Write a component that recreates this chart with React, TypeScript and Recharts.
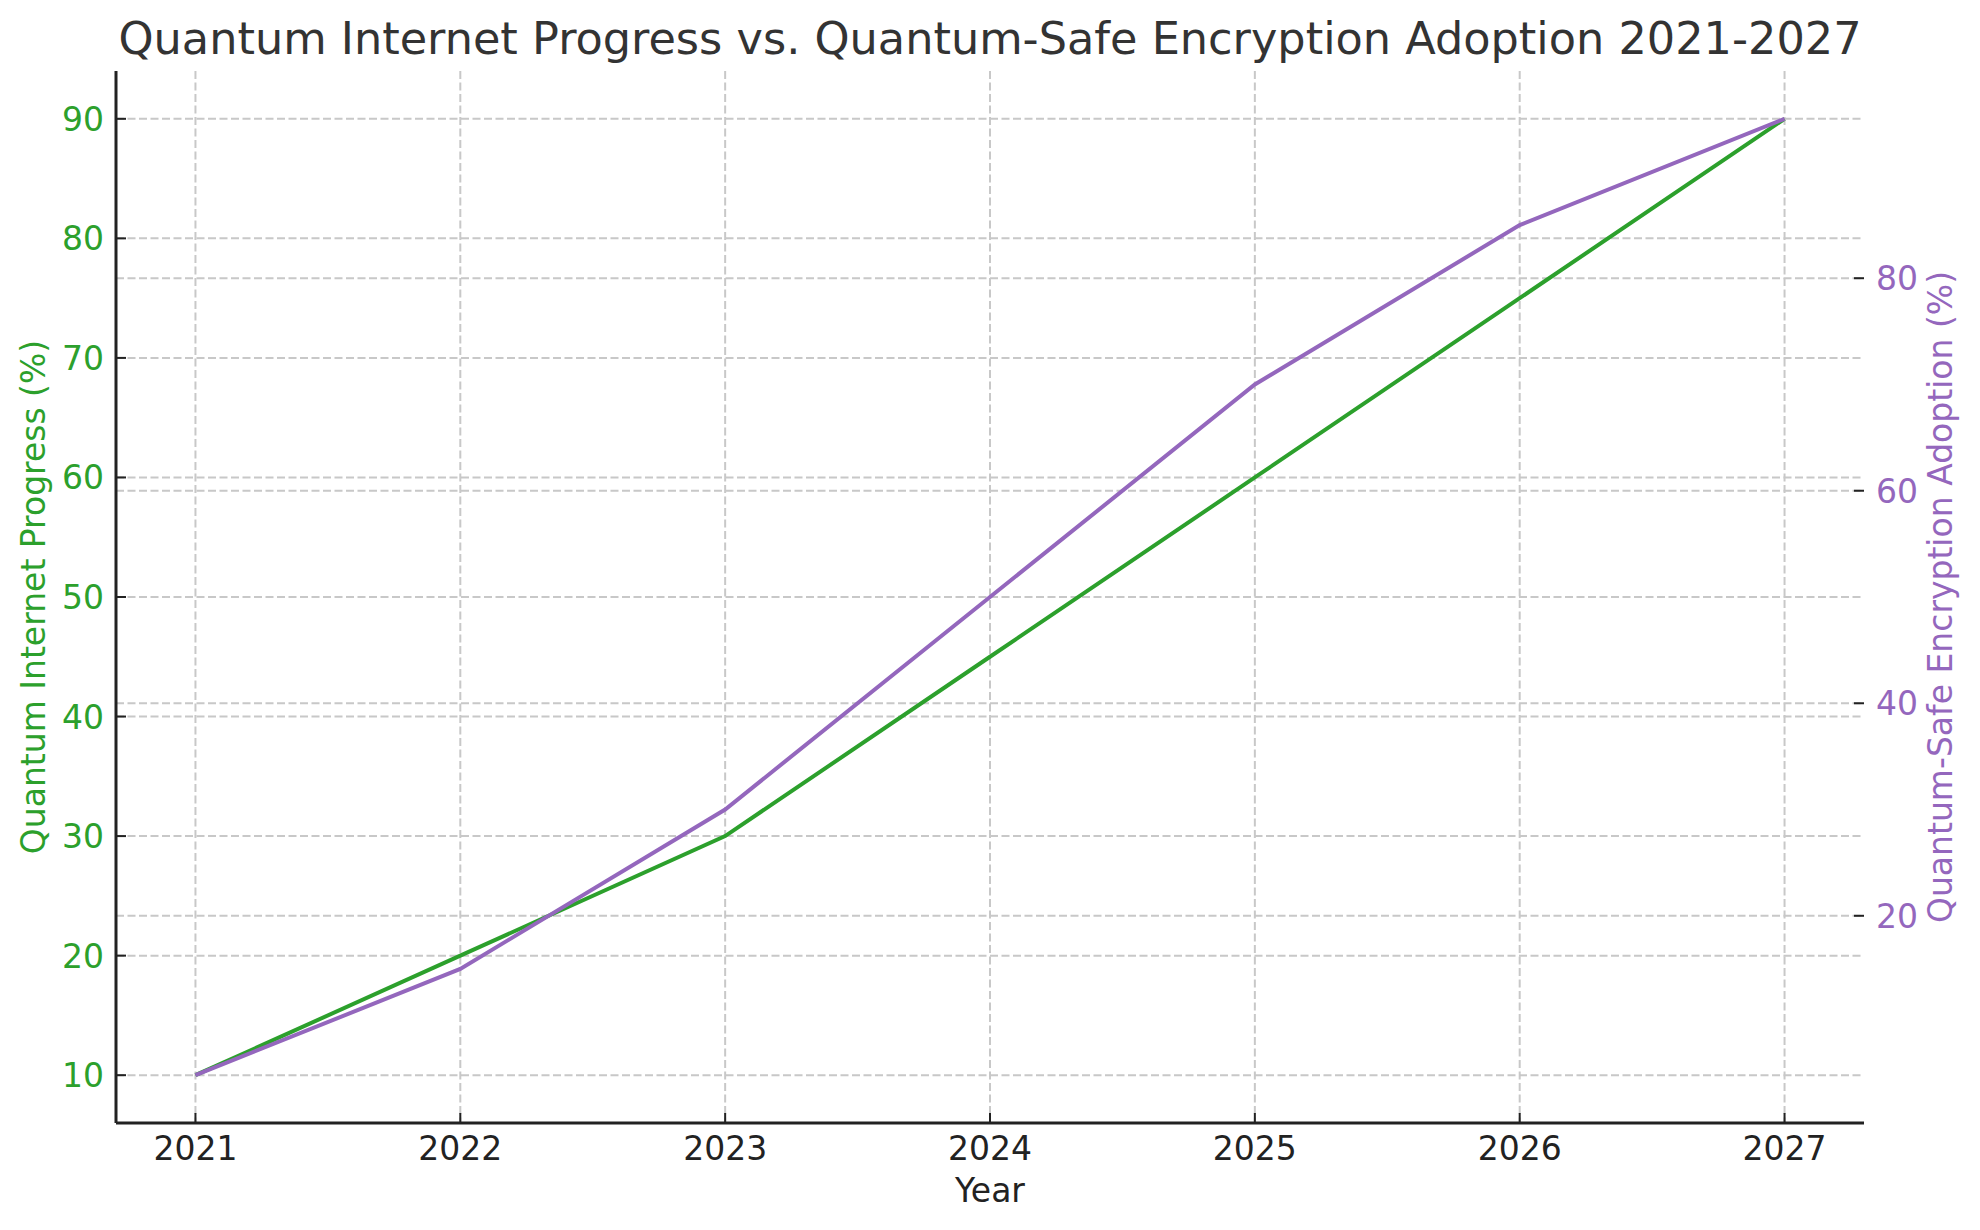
import React from 'react';
import { LineChart, Line, XAxis, YAxis, CartesianGrid } from 'recharts';

const years = [2021, 2022, 2023, 2024, 2025, 2026, 2027];
const quantumInternetProgress = [10, 20, 30, 45, 60, 75, 90];
const encryptionAdoption = [5, 15, 30, 50, 70, 85, 95];
const leftTicks = [10, 20, 30, 40, 50, 60, 70, 80, 90];
const rightTicks = [20, 40, 60, 80];

const GREEN = '#2ca02c';
const PURPLE = '#9467bd';
const DARK = '#222222';
const FONT = '"DejaVu Sans", sans-serif';

const data = years.map((y, i) => ({
  year: y,
  progress: quantumInternetProgress[i],
  adoption: encryptionAdoption[i],
}));

const W = 1980;
const H = 1230;

const LeftTick = (props: any) => {
  const { x, y, payload } = props;
  return (
    <g>
      <line x1={x} x2={x + 10} y1={y} y2={y} stroke={DARK} strokeWidth={2} />
      <text x={x - 12} y={y + 12} textAnchor="end" fontSize={33} fill={GREEN} fontFamily={FONT}>
        {payload.value}
      </text>
    </g>
  );
};

const RightTick = (props: any) => {
  const { x, y, payload } = props;
  return (
    <g>
      <line x1={x - 10} x2={x} y1={y} y2={y} stroke={DARK} strokeWidth={2} />
      <text x={x + 12} y={y + 12} textAnchor="start" fontSize={33} fill={PURPLE} fontFamily={FONT}>
        {payload.value}
      </text>
    </g>
  );
};

const BottomTick = (props: any) => {
  const { x, y, payload } = props;
  return (
    <g>
      <line x1={x} x2={x} y1={y - 10} y2={y} stroke={DARK} strokeWidth={2} />
      <text x={x} y={y + 37} textAnchor="middle" fontSize={33} fill={DARK} fontFamily={FONT}>
        {payload.value}
      </text>
    </g>
  );
};

export default function App() {
  return (
    <div style={{ position: 'absolute', left: 0, top: 0, width: W, height: H, background: '#fff' }}>
      <LineChart width={W} height={H} data={data} margin={{ top: 71, right: 0, bottom: 0, left: 0 }}>
        <CartesianGrid
          yAxisId="left"
          syncWithTicks
          stroke="#c8c8c8"
          strokeWidth={2}
          strokeDasharray="8 3.5"
        />
        <CartesianGrid
          yAxisId="right"
          syncWithTicks
          vertical={false}
          stroke="#c8c8c8"
          strokeWidth={2}
          strokeDasharray="8 3.5"
        />
        <XAxis
          dataKey="year"
          type="number"
          domain={[2020.7, 2027.3]}
          allowDataOverflow
          ticks={years}
          interval={0}
          height={107}
          tickSize={0}
          tickMargin={0}
          tickLine={false}
          axisLine={{ stroke: DARK, strokeWidth: 3 }}
          tick={<BottomTick />}
        />
        <YAxis
          yAxisId="left"
          orientation="left"
          type="number"
          domain={[6, 94]}
          allowDataOverflow
          ticks={leftTicks}
          interval={0}
          width={116}
          tickSize={0}
          tickMargin={0}
          tickLine={false}
          axisLine={{ stroke: DARK, strokeWidth: 3 }}
          tick={<LeftTick />}
        />
        <YAxis
          yAxisId="right"
          orientation="right"
          type="number"
          domain={[0.5, 99.5]}
          allowDataOverflow
          ticks={rightTicks}
          interval={0}
          width={116}
          tickSize={0}
          tickMargin={0}
          tickLine={false}
          axisLine={false}
          tick={<RightTick />}
        />
        <Line
          yAxisId="left"
          type="linear"
          dataKey="progress"
          stroke={GREEN}
          strokeWidth={4}
          dot={false}
          activeDot={false}
          isAnimationActive={false}
        />
        <Line
          yAxisId="right"
          type="linear"
          dataKey="adoption"
          stroke={PURPLE}
          strokeWidth={4}
          dot={false}
          activeDot={false}
          isAnimationActive={false}
        />
      </LineChart>
      <svg
        width={W}
        height={H}
        style={{ position: 'absolute', left: 0, top: 0, pointerEvents: 'none' }}
      >
        <text x={990} y={54} textAnchor="middle" fontSize={44.6} fill="#333333" fontFamily={FONT}>
          Quantum Internet Progress vs. Quantum-Safe Encryption Adoption 2021-2027
        </text>
        <text x={990} y={1202} textAnchor="middle" fontSize={33} fill={DARK} fontFamily={FONT}>
          Year
        </text>
        <text
          x={45}
          y={597}
          transform="rotate(-90 45 597)"
          textAnchor="middle"
          fontSize={33}
          fill={GREEN}
          fontFamily={FONT}
        >
          Quantum Internet Progress (%)
        </text>
        <text
          x={1952}
          y={597}
          transform="rotate(-90 1952 597)"
          textAnchor="middle"
          fontSize={33}
          fill={PURPLE}
          fontFamily={FONT}
        >
          Quantum-Safe Encryption Adoption (%)
        </text>
      </svg>
    </div>
  );
}
